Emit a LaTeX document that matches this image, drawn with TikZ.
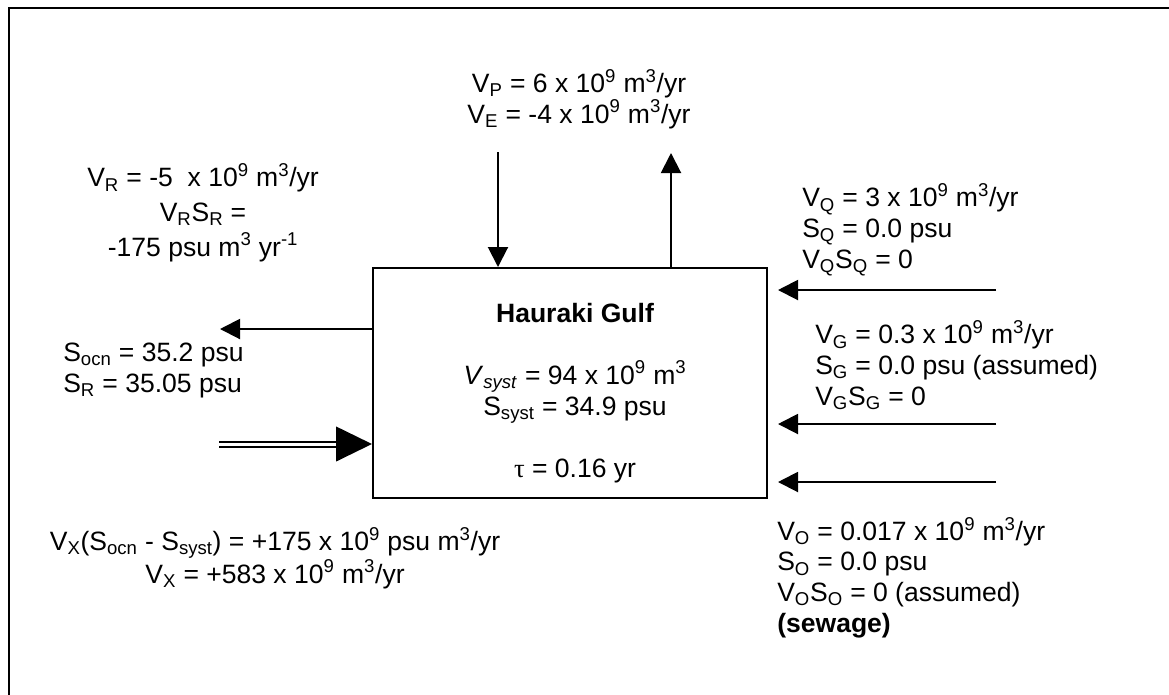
\documentclass[tikz,border=0pt]{standalone}
\usepackage{fontspec}
\setmainfont{Liberation Sans}
\newfontfamily\greekfont{Liberation Serif}
\usetikzlibrary{arrows.meta,positioning}

\newcommand{\lowtxt}[1]{\textsubscript{#1}}
\newcommand{\hightxt}[1]{\textsuperscript{#1}}

\tikzset{
  flow/.style={line width=1.5pt,-{Triangle[length=15pt,width=15pt]}},
  mixflow/.style={double,double distance=2.25pt,line width=1.5pt,-{Triangle[length=27pt,width=26pt]}},
  gulfbox/.style={draw,line width=1.5pt,minimum width=295.5pt,minimum height=172.5pt,inner sep=0pt},
  budget/.style={inner sep=0pt,font=\fontsize{19.9}{22.9}\selectfont},
}

\begin{document}
\begin{tikzpicture}[x=0.75pt,y=-0.75pt]
\useasboundingbox (0,0) rectangle (1169,694);
\draw[line width=1.7pt] (9,710) |- (1180,8);

% the box
\node (gulf) [gulfbox] at (570,383) {};
\node (gulfinfo) [budget,align=center,anchor=base,font=\fontsize{19.9}{23.25}\selectfont] at (575,477)
  {\textbf{Hauraki Gulf}\\[23.25pt]
   \textit{V}\lowtxt{\textit{syst}} = 94 x 10\hightxt{9} m\hightxt{3}\\
   S\lowtxt{syst} = 34.9 psu\\[23.25pt]
   {\greekfont τ} = 0.16 yr};

% labels
\node (pe) [budget,align=center,anchor=base] at (579,123)
  {V\lowtxt{P} = 6 x 10\hightxt{9} m\hightxt{3}/yr\\
   V\lowtxt{E} = -4 x 10\hightxt{9} m\hightxt{3}/yr};
\node (resid) [budget,align=center,anchor=base,font=\fontsize{19.9}{25.9}\selectfont] at (203,256)
  {V\lowtxt{R} = -5\ \ x 10\hightxt{9} m\hightxt{3}/yr\\
   V\lowtxt{R}S\lowtxt{R} =\\
   -175 psu m\hightxt{3} yr\hightxt{-1}};
\node (ocean) [budget,align=left,anchor=base west] at (63,392)
  {S\lowtxt{ocn} = 35.2 psu\\
   S\lowtxt{R} = 35.05 psu};
\node (mixing) [budget,align=center,anchor=base] at (275,583)
  {V\lowtxt{X}(S\lowtxt{ocn} - S\lowtxt{syst}) = +175 x 10\hightxt{9} psu m\hightxt{3}/yr\\
   V\lowtxt{X} = +583 x 10\hightxt{9} m\hightxt{3}/yr};
\node (runoff) [budget,align=left,anchor=base west] at (802,268)
  {V\lowtxt{Q} = 3 x 10\hightxt{9} m\hightxt{3}/yr\\
   S\lowtxt{Q} = 0.0 psu\\
   V\lowtxt{Q}S\lowtxt{Q} = 0};
\node (ground) [budget,align=left,anchor=base west] at (815,405)
  {V\lowtxt{G} = 0.3 x 10\hightxt{9} m\hightxt{3}/yr\\
   S\lowtxt{G} = 0.0 psu (assumed)\\
   V\lowtxt{G}S\lowtxt{G} = 0};
\node (sewage) [budget,align=left,anchor=base west] at (777,632)
  {V\lowtxt{O} = 0.017 x 10\hightxt{9} m\hightxt{3}/yr\\
   S\lowtxt{O} = 0.0 psu\\
   V\lowtxt{O}S\lowtxt{O} = 0 (assumed)\\
   \textbf{(sewage)}};

% flows
\coordinate (rain) at (498,152);
\coordinate (evap) at (671,153);
\coordinate (resout) at (220,329);
\coordinate (mixin) at (219,444);
\coordinate (qin) at (996,290);
\coordinate (gin) at (996,424);
\coordinate (oin) at (996,482);

\draw[flow] (rain) -- (rain |- gulf.north);
\draw[flow] (evap |- gulf.north) -- (evap);
\draw[flow] (resout -| gulf.west) -- (resout);
\draw[mixflow] (mixin) -- (mixin -| gulf.west);
\foreach \src in {qin,gin,oin}
  \draw[flow] (\src) -- ([xshift=7.5pt]\src -| gulf.east);
\end{tikzpicture}
\end{document}
